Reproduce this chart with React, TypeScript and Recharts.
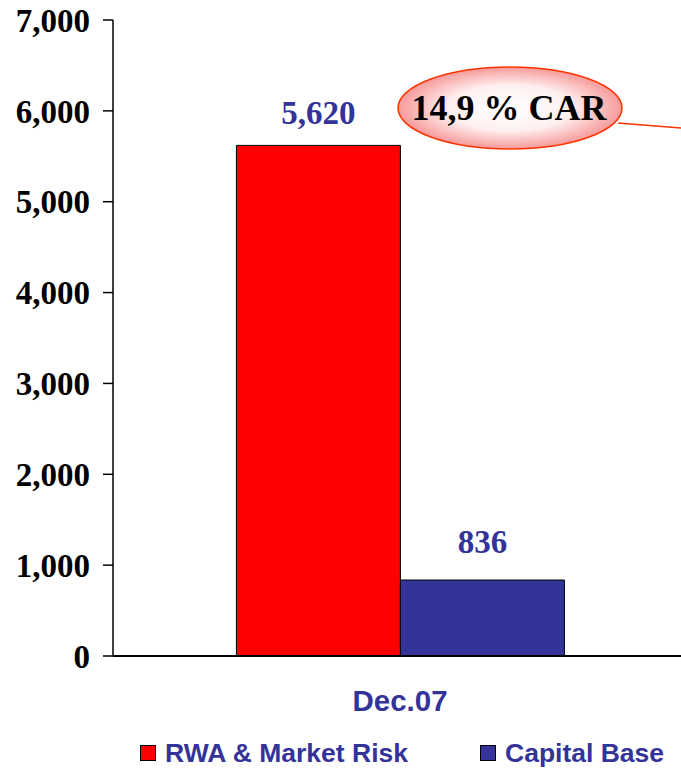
import { Bar, BarChart, LabelList, XAxis, YAxis } from "recharts";

const categories = ["Dec.07"];
const rwaValues = [5620];
const capitalValues = [836];
const yTicks = [0, 1000, 2000, 3000, 4000, 5000, 6000, 7000];
const seriesNames = ["RWA & Market Risk", "Capital Base"];
const seriesColors = ["#FF0000", "#333399"];
const carLabel = "14,9 % CAR";

const data = categories.map((period, i) => ({
  period,
  rwa: rwaValues[i],
  capital: capitalValues[i],
}));

const serif = "'Liberation Serif', 'Times New Roman', serif";
const sans = "'Liberation Sans', Arial, sans-serif";
const navy = "#333399";

function PeriodTick({ x, y, payload }: any) {
  return (
    <text
      x={x}
      y={y}
      dy={53}
      textAnchor="middle"
      fill={navy}
      fontFamily={sans}
      fontWeight="bold"
      fontSize={29.5}
    >
      {payload.value}
    </text>
  );
}

function ValueLabel({ x, y, width, value, lift }: any) {
  return (
    <text
      x={x + width / 2}
      y={y - lift}
      textAnchor="middle"
      fill={navy}
      fontFamily={serif}
      fontWeight="bold"
      fontSize={33}
    >
      {Number(value).toLocaleString("en-US")}
    </text>
  );
}

function CarCallout() {
  return (
    <svg
      width={681}
      height={769}
      style={{ position: "absolute", left: 0, top: 0, pointerEvents: "none" }}
    >
      <defs>
        <radialGradient id="carFill" cx="50%" cy="50%" r="50%">
          <stop offset="0%" stopColor="#ffffff" />
          <stop offset="55%" stopColor="#fff0f0" />
          <stop offset="100%" stopColor="#f79a9a" />
        </radialGradient>
      </defs>
      <line x1={618} y1={123} x2={681} y2={128} stroke="#ff3300" strokeWidth={1.5} />
      <ellipse cx={510} cy={108} rx={112} ry={41} fill="url(#carFill)" stroke="#ff3300" strokeWidth={1.5} />
      <text
        x={509}
        y={120}
        textAnchor="middle"
        fill="#000"
        fontFamily={serif}
        fontWeight="bold"
        fontSize={36}
      >
        {carLabel}
      </text>
    </svg>
  );
}

export default function App() {
  return (
    <div style={{ position: "absolute", left: 0, top: 0, width: 681, height: 769, background: "#fff" }}>
      <BarChart
        width={681}
        height={769}
        data={data}
        margin={{ top: 20, right: -6, bottom: 83, left: 0 }}
        barCategoryGap="21.5%"
        barGap={0}
      >
        <XAxis
          dataKey="period"
          stroke="#000"
          strokeWidth={2}
          tickLine={false}
          tickSize={0}
          tick={<PeriodTick />}
        />
        <YAxis
          width={113}
          domain={[0, 7000]}
          ticks={yTicks}
          stroke="#000"
          strokeWidth={1.5}
          tickSize={10}
          tickMargin={13}
          tickFormatter={(v: number) => v.toLocaleString("en-US")}
          tick={{ fill: "#000", fontFamily: serif, fontWeight: "bold", fontSize: 33 }}
          interval={0}
        />
        <Bar dataKey="rwa" name={seriesNames[0]} fill={seriesColors[0]} stroke="#000" strokeWidth={1} isAnimationActive={false}>
          <LabelList dataKey="rwa" content={<ValueLabel lift={21} />} />
        </Bar>
        <Bar dataKey="capital" name={seriesNames[1]} fill={seriesColors[1]} stroke="#000" strokeWidth={1} isAnimationActive={false}>
          <LabelList dataKey="capital" content={<ValueLabel lift={27} />} />
        </Bar>
      </BarChart>
      <CarCallout />
      <div
        style={{
          position: "absolute",
          left: 0,
          top: 738,
          width: 681,
          fontFamily: sans,
          fontWeight: "bold",
          fontSize: 26.5,
          color: navy,
          lineHeight: "30px",
        }}
      >
        {seriesNames.map((name, i) => (
          <div
            key={name}
            style={{ position: "absolute", left: i === 0 ? 140 : 480, display: "flex", alignItems: "center", whiteSpace: "nowrap" }}
          >
            <span
              style={{
                display: "inline-block",
                width: 14,
                height: 14,
                background: seriesColors[i],
                border: "1px solid #000",
                marginRight: 9,
              }}
            />
            {name}
          </div>
        ))}
      </div>
    </div>
  );
}
